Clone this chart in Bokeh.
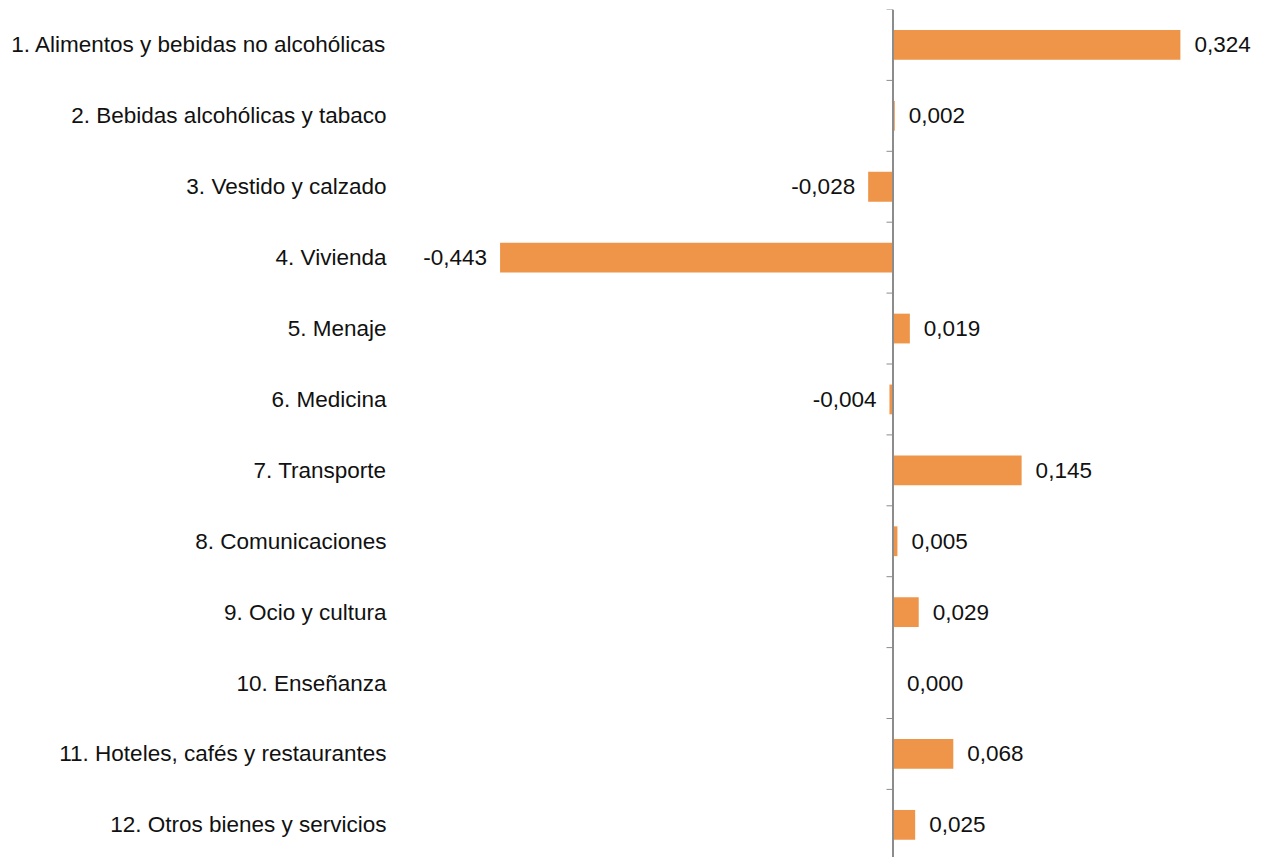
from bokeh.plotting import figure
from bokeh.models import Range1d, FixedTicker, Span, ColumnDataSource
from bokeh.embed import file_html
from bokeh.resources import INLINE

categories = [
    "1. Alimentos y bebidas no alcohólicas",
    "2. Bebidas alcohólicas y tabaco",
    "3. Vestido y calzado",
    "4. Vivienda",
    "5. Menaje",
    "6. Medicina",
    "7. Transporte",
    "8. Comunicaciones",
    "9. Ocio y cultura",
    "10. Enseñanza",
    "11. Hoteles, cafés y restaurantes",
    "12. Otros bienes y servicios",
]
values = [0.324, 0.002, -0.028, -0.443, 0.019, -0.004, 0.145, 0.005, 0.029, 0.000, 0.068, 0.025]

FONT = "Liberation Sans"
BAR = "#EE9549"
TXT = "#111111"
AXC = "#8C8C8C"

W, H = 1266, 857
LEFT = 392
TOP = 9
ZERO_PX = 892.5
SCALE = 887.0
BAND = 70.9

pos = [i + 0.5 for i in range(len(categories))]
labels = [("%.3f" % v).replace(".", ",") for v in values]

src = ColumnDataSource(dict(
    y=pos, v=values, lab=labels,
    off=[14 if v >= 0 else -13 for v in values],
    align=["left" if v >= 0 else "right" for v in values],
))

frame_h = H - TOP
p = figure(width=W, height=H, output_backend="svg", toolbar_location=None,
           x_axis_type=None,
           x_range=Range1d(-(ZERO_PX - LEFT) / SCALE, (W - ZERO_PX) / SCALE),
           y_range=Range1d(frame_h / BAND, 0),
           min_border_left=LEFT, min_border_right=0, min_border_top=TOP, min_border_bottom=0)
p.outline_line_color = None
p.grid.visible = False
p.background_fill_color = "white"
p.border_fill_color = "white"

p.hbar(y="y", right="v", left=0, height=0.42, source=src, fill_color=BAR, line_color=None)

p.text(x="v", y="y", text="lab", x_offset="off", text_align="align", text_baseline="middle",
       source=src, text_font_size="22.5px", text_color=TXT, text_font={"value": FONT})

# zero axis line with boundary ticks
p.add_layout(Span(location=0, dimension="height", line_color=AXC, line_width=2))
bounds = list(range(len(categories) + 1))
p.segment(x0=[-6.5 / SCALE] * len(bounds), x1=[0] * len(bounds), y0=bounds, y1=bounds,
          line_color=AXC, line_width=1)

ax = p.yaxis[0]
ax.ticker = FixedTicker(ticks=pos)
ax.major_label_overrides = {p_: c for p_, c in zip(pos, categories)}
ax.axis_line_color = None
ax.major_tick_line_color = None
ax.minor_tick_line_color = None
ax.major_tick_out = 0
ax.major_tick_in = 0
ax.major_label_standoff = 6
ax.major_label_text_font = FONT
ax.major_label_text_font_size = "22.5px"
ax.major_label_text_color = TXT

open("out.html", "w").write(file_html(p, INLINE))
